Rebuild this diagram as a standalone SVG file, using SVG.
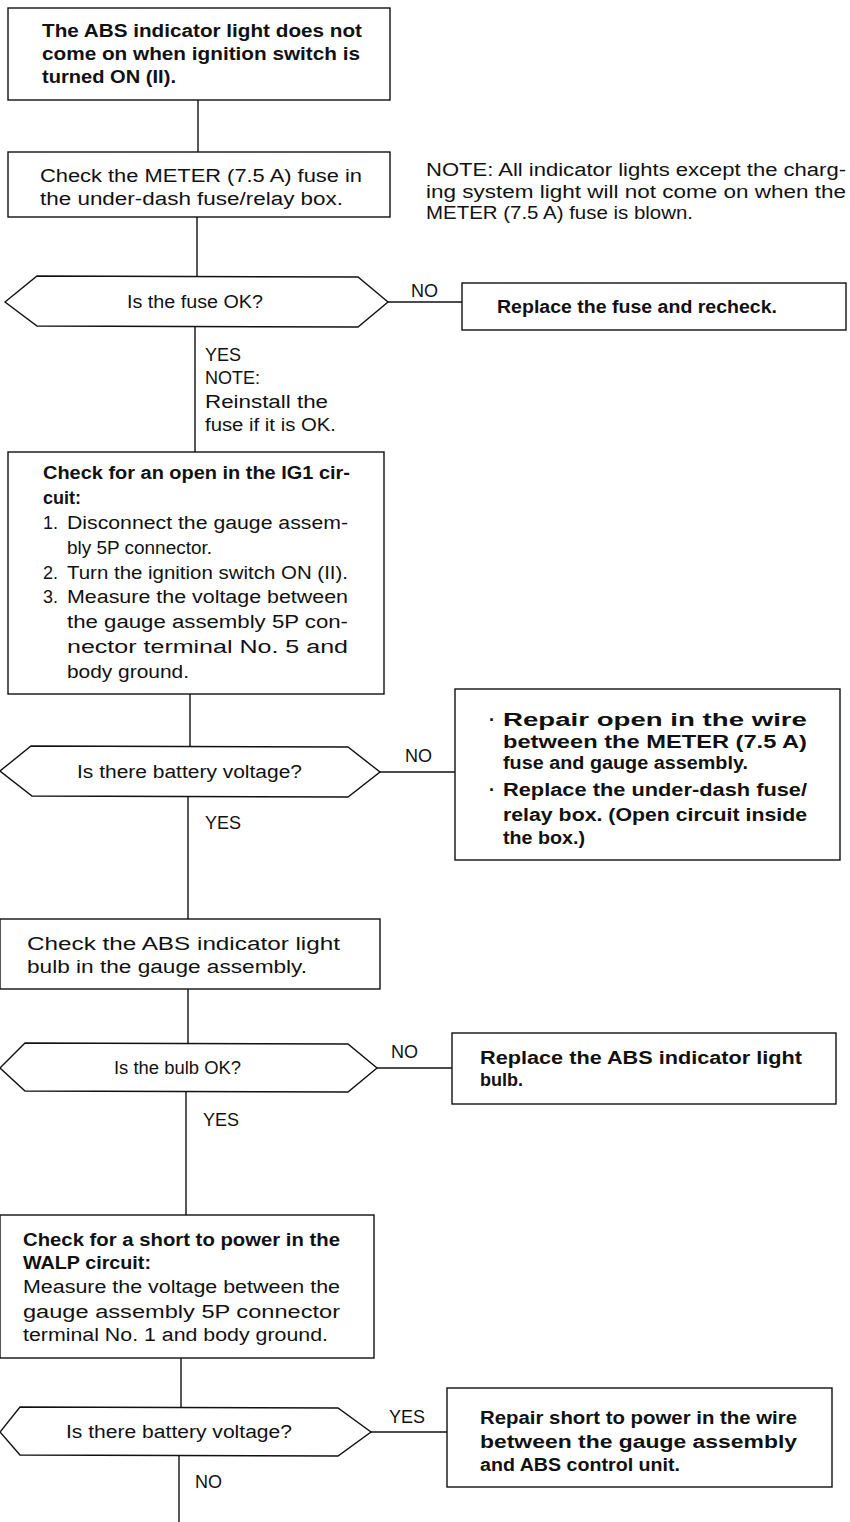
<svg xmlns="http://www.w3.org/2000/svg" width="850" height="1522" viewBox="0 0 850 1522">
<style>
.bx{fill:#fff;stroke:#111;stroke-width:1.4}
.ln{fill:none;stroke:#111;stroke-width:1.4}
text{font-family:"Liberation Sans",Arial,Helvetica,sans-serif;font-size:18px;fill:#111}
.b{font-weight:bold}
</style>
<rect width="850" height="1522" fill="#fff"/>
<g id="connectors">
<path class="ln" d="M198,100 V152"/>
<path class="ln" d="M197,217 V276"/>
<path class="ln" d="M388,302 H462"/>
<path class="ln" d="M195,327 V452"/>
<path class="ln" d="M190,694 V746"/>
<path class="ln" d="M380,772 H455"/>
<path class="ln" d="M188,797 V919"/>
<path class="ln" d="M188,989 V1043"/>
<path class="ln" d="M377,1068 H452"/>
<path class="ln" d="M186,1092 V1215"/>
<path class="ln" d="M181,1358 V1407"/>
<path class="ln" d="M371,1432 H447"/>
<path class="ln" d="M179,1456 V1522"/>
<text x="411" y="297">NO</text>
<text x="205" y="361">YES</text>
<text x="205" y="384">NOTE:</text>
<text x="205" y="408" textLength="123" lengthAdjust="spacingAndGlyphs">Reinstall the</text>
<text x="205" y="431" textLength="131" lengthAdjust="spacingAndGlyphs">fuse if it is OK.</text>
<text x="405" y="762">NO</text>
<text x="205" y="829">YES</text>
<text x="391" y="1058">NO</text>
<text x="203" y="1126">YES</text>
<text x="389" y="1423">YES</text>
<text x="195" y="1488">NO</text>
</g>
<g id="start">
<rect class="bx" x="8" y="8" width="382" height="92"/>
<text class="b" x="42" y="37" textLength="320" lengthAdjust="spacingAndGlyphs">The ABS indicator light does not</text>
<text class="b" x="42" y="60" textLength="318" lengthAdjust="spacingAndGlyphs">come on when ignition switch is</text>
<text class="b" x="42" y="83" textLength="134" lengthAdjust="spacingAndGlyphs">turned ON (II).</text>
</g>
<g id="check-fuse">
<rect class="bx" x="8" y="152" width="382" height="65"/>
<text x="40" y="182" textLength="322" lengthAdjust="spacingAndGlyphs">Check the METER (7.5 A) fuse in</text>
<text x="40" y="205" textLength="303" lengthAdjust="spacingAndGlyphs">the under-dash fuse/relay box.</text>
</g>
<g id="note-fuse">
<text x="426" y="176" textLength="420" lengthAdjust="spacingAndGlyphs">NOTE: All indicator lights except the charg-</text>
<text x="426" y="198" textLength="420" lengthAdjust="spacingAndGlyphs">ing system light will not come on when the</text>
<text x="426" y="219" textLength="267" lengthAdjust="spacingAndGlyphs">METER (7.5 A) fuse is blown.</text>
</g>
<g id="fuse-ok">
<polygon class="bx" points="5,302 37,276 358,277 388,302 358,327 37,326"/>
<text x="127" y="308" textLength="136" lengthAdjust="spacingAndGlyphs">Is the fuse OK?</text>
</g>
<g id="replace-fuse">
<rect class="bx" x="462" y="283" width="384" height="47"/>
<text class="b" x="497" y="313" textLength="280" lengthAdjust="spacingAndGlyphs">Replace the fuse and recheck.</text>
</g>
<g id="check-ig1">
<rect class="bx" x="8" y="452" width="376" height="242"/>
<text class="b" x="43" y="479" textLength="307" lengthAdjust="spacingAndGlyphs">Check for an open in the IG1 cir-</text>
<text class="b" x="43" y="504">cuit:</text>
<text x="43" y="529">1.</text>
<text x="67" y="529" textLength="281" lengthAdjust="spacingAndGlyphs">Disconnect the gauge assem-</text>
<text x="67" y="554" textLength="145" lengthAdjust="spacingAndGlyphs">bly 5P connector.</text>
<text x="43" y="579">2.</text>
<text x="67" y="579" textLength="281" lengthAdjust="spacingAndGlyphs">Turn the ignition switch ON (II).</text>
<text x="43" y="603">3.</text>
<text x="67" y="603" textLength="281" lengthAdjust="spacingAndGlyphs">Measure the voltage between</text>
<text x="67" y="628" textLength="281" lengthAdjust="spacingAndGlyphs">the gauge assembly 5P con-</text>
<text x="67" y="653" textLength="281" lengthAdjust="spacingAndGlyphs">nector terminal No. 5 and</text>
<text x="67" y="678" textLength="122" lengthAdjust="spacingAndGlyphs">body ground.</text>
</g>
<g id="battery-1">
<polygon class="bx" points="0,771 31,746 348,747 380,772 348,797 32,796"/>
<text x="77" y="778" textLength="225" lengthAdjust="spacingAndGlyphs">Is there battery voltage?</text>
</g>
<g id="repair-open">
<rect class="bx" x="455" y="689" width="385" height="171"/>
<text class="b" x="489" y="726">·</text>
<text class="b" x="503" y="726" textLength="304" lengthAdjust="spacingAndGlyphs">Repair open in the wire</text>
<text class="b" x="503" y="748" textLength="304" lengthAdjust="spacingAndGlyphs">between the METER (7.5 A)</text>
<text class="b" x="503" y="769" textLength="245" lengthAdjust="spacingAndGlyphs">fuse and gauge assembly.</text>
<text class="b" x="489" y="796">·</text>
<text class="b" x="503" y="796" textLength="304" lengthAdjust="spacingAndGlyphs">Replace the under-dash fuse/</text>
<text class="b" x="503" y="821" textLength="304" lengthAdjust="spacingAndGlyphs">relay box. (Open circuit inside</text>
<text class="b" x="503" y="844" textLength="82" lengthAdjust="spacingAndGlyphs">the box.)</text>
</g>
<g id="check-bulb">
<rect class="bx" x="0" y="919" width="380" height="70"/>
<text x="27" y="950" textLength="313" lengthAdjust="spacingAndGlyphs">Check the ABS indicator light</text>
<text x="27" y="973" textLength="280" lengthAdjust="spacingAndGlyphs">bulb in the gauge assembly.</text>
</g>
<g id="bulb-ok">
<polygon class="bx" points="0,1068 25,1043 348,1044 377,1068 348,1092 25,1091"/>
<text x="114" y="1074" textLength="127" lengthAdjust="spacingAndGlyphs">Is the bulb OK?</text>
</g>
<g id="replace-bulb">
<rect class="bx" x="452" y="1033" width="384" height="71"/>
<text class="b" x="480" y="1064" textLength="322" lengthAdjust="spacingAndGlyphs">Replace the ABS indicator light</text>
<text class="b" x="480" y="1086">bulb.</text>
</g>
<g id="check-walp">
<rect class="bx" x="0" y="1215" width="374" height="143"/>
<text class="b" x="23" y="1246" textLength="317" lengthAdjust="spacingAndGlyphs">Check for a short to power in the</text>
<text class="b" x="23" y="1269" textLength="128" lengthAdjust="spacingAndGlyphs">WALP circuit:</text>
<text x="23" y="1293" textLength="317" lengthAdjust="spacingAndGlyphs">Measure the voltage between the</text>
<text x="23" y="1318" textLength="317" lengthAdjust="spacingAndGlyphs">gauge assembly 5P connector</text>
<text x="23" y="1341" textLength="305" lengthAdjust="spacingAndGlyphs">terminal No. 1 and body ground.</text>
</g>
<g id="battery-2">
<polygon class="bx" points="0,1432 20,1407 338,1408 371,1432 338,1456 20,1455"/>
<text x="66" y="1438" textLength="226" lengthAdjust="spacingAndGlyphs">Is there battery voltage?</text>
</g>
<g id="repair-short">
<rect class="bx" x="447" y="1388" width="385" height="99"/>
<text class="b" x="480" y="1424" textLength="317" lengthAdjust="spacingAndGlyphs">Repair short to power in the wire</text>
<text class="b" x="480" y="1448" textLength="317" lengthAdjust="spacingAndGlyphs">between the gauge assembly</text>
<text class="b" x="480" y="1471" textLength="200" lengthAdjust="spacingAndGlyphs">and ABS control unit.</text>
</g>
</svg>
